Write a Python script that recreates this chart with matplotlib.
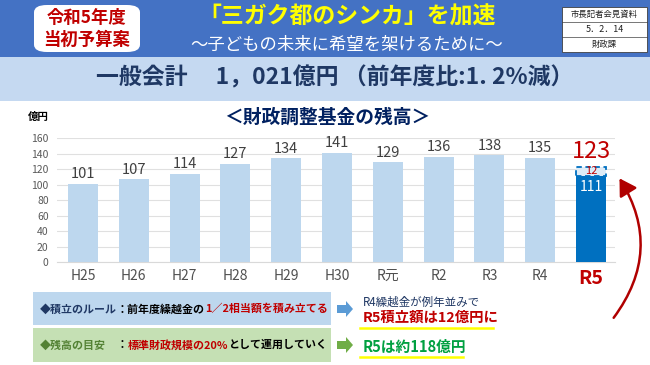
import matplotlib
matplotlib.use("Agg")
import matplotlib.pyplot as plt
from matplotlib.patches import Rectangle, FancyBboxPatch, FancyArrowPatch, FancyArrow
import numpy as np

plt.rcParams['font.family'] = ['Noto Sans CJK JP', 'DejaVu Sans']

# ---- data ----
categories = ['H25', 'H26', 'H27', 'H28', 'H29', 'H30', 'R元', 'R2', 'R3', 'R4', 'R5']
balance = [101, 107, 114, 127, 134, 141, 129, 136, 138, 135, 111]
r5_addition = 12
r5_total = 123
yticks = [0, 20, 40, 60, 80, 100, 120, 140, 160]

W, H = 650, 365
fig = plt.figure(figsize=(6.5, 3.65), dpi=100)
fig.patch.set_facecolor('white')
renderer = fig.canvas.get_renderer()

def fx(x):
    return x / W

def fy(y):
    return 1 - y / H

def rect(x0, y0, x1, y1, **kw):
    r = Rectangle((fx(x0), fy(y1)), fx(x1) - fx(x0), (y1 - y0) / H,
                  transform=fig.transFigure, **kw)
    fig.add_artist(r)
    return r

def txt(x, y, s, **kw):
    kw.setdefault('ha', 'center')
    kw.setdefault('va', 'center')
    return fig.text(fx(x), fy(y), s, **kw)

def seq(x, y, parts):
    for s, color, size, weight in parts:
        t = fig.text(fx(x), fy(y), s, color=color, fontsize=size,
                     fontweight=weight, ha='left', va='center')
        bb = t.get_window_extent(renderer)
        x += bb.width
    return x

# ---- header ----
rect(0, 0, 650, 57, facecolor='#4472C4', edgecolor='none')
rect(0, 57, 650, 101, facecolor='#C5D9F1', edgecolor='none')

box = FancyBboxPatch((fx(34), fy(52)), fx(140) - fx(34), 47 / H,
                     boxstyle='round,pad=0,rounding_size=0.02',
                     transform=fig.transFigure, facecolor='white', edgecolor='none')
fig.add_artist(box)
txt(87, 18, '令和5年度', color='#C00000', fontsize=12.5, fontweight='bold')
txt(87, 40, '当初予算案', color='#C00000', fontsize=12.5, fontweight='bold')

txt(347, 17, '「三ガク都のシンカ」を加速', color='#FFFF00', fontsize=16.5, fontweight='bold')
txt(347, 45, '～子どもの未来に希望を架けるために～', color='white', fontsize=12.5)

# right info box
rect(562, 7, 647, 52, facecolor='white', edgecolor='#404040', linewidth=0.6)
for yy in (22, 37):
    fig.add_artist(plt.Line2D([fx(562), fx(647)], [fy(yy), fy(yy)],
                              transform=fig.transFigure, color='#404040', linewidth=0.5))
txt(604.5, 14.5, '市長記者会見資料', color='#202020', fontsize=6)
txt(604.5, 29.5, '5．2．14', color='#202020', fontsize=6.5)
txt(604.5, 44.5, '財政課', color='#202020', fontsize=6)

# general account band
txt(335, 78, '一般会計　 1，021億円 （前年度比:1. 2%減）', color='#1F3864',
    fontsize=16.5, fontweight='bold')

# ---- chart ----
ax_left, ax_right, ax_top, ax_bot = 57, 615, 138.3, 262.3
ax = fig.add_axes([fx(ax_left), fy(ax_bot), fx(ax_right) - fx(ax_left), (ax_bot - ax_top) / H])
x = np.arange(len(categories))
colors = ['#BDD7EE'] * (len(categories) - 1) + ['#0070C0']
ax.bar(x, balance, width=0.59, color=colors, zorder=3)
ax.bar(x[-1], r5_addition, bottom=balance[-1], width=0.59, facecolor='#DDEBF7',
       edgecolor='#0070C0', linestyle=(0, (3, 2)), linewidth=1.3, zorder=3)
ax.set_xlim(-0.51, 10.47)
ax.set_ylim(0, 160)
ax.set_yticks(yticks)
ax.grid(axis='y', color='#E0E0E0', linewidth=0.8, zorder=0)
for s in ('top', 'right', 'left'):
    ax.spines[s].set_visible(False)
ax.spines['bottom'].set_color('#D9D9D9')
ax.tick_params(axis='both', length=0)
ax.tick_params(axis='y', labelsize=7.5, labelcolor='#595959', pad=6)
ax.set_xticks(x)
ax.set_xticklabels(categories, fontsize=10, color='#505050')
ax.tick_params(axis='x', pad=5)
lbls = ax.get_xticklabels()
lbls[-1].set_color('#C00000')
lbls[-1].set_fontsize(14)
lbls[-1].set_fontweight('bold')
for i in range(len(categories) - 1):
    ax.annotate(str(balance[i]), (x[i], balance[i]), xytext=(0, 2),
                textcoords='offset points', ha='center', va='bottom',
                fontsize=10.5, color='#404040')
ax.annotate(str(r5_total), (x[-1], r5_total), xytext=(0, 3),
            textcoords='offset points', ha='center', va='bottom',
            fontsize=17, color='#C00000')
ax.text(x[-1], balance[-1] + r5_addition / 2 + 0.5, str(r5_addition), ha='center', va='center',
        fontsize=8, color='#C00000', zorder=5)
ax.annotate(str(balance[-1]), (x[-1], balance[-1]), xytext=(0, -3),
            textcoords='offset points', ha='center', va='top',
            fontsize=10, color='white', zorder=5)
ax.set_facecolor('none')

txt(38, 117, '億円', color='#000000', fontsize=7.5, fontweight='bold')
txt(327, 117, '＜財政調整基金の残高＞', color='#002060', fontsize=13.5, fontweight='bold')

# ---- bottom boxes ----
rect(33, 292, 331, 325, facecolor='#BDD7EE', edgecolor='none')
rect(33, 328, 331, 362, facecolor='#C5E0B4', edgecolor='none')
fs = 7.9
seq(40, 309, [('◆積立のルール', '#203864', fs, 'bold'),
              ('：前年度繰越金の', '#000000', fs, 'bold'),
              ('1／2相当額を積み立てる', '#C00000', fs, 'bold')])
seq(40, 345, [('◆残高の目安', '#548235', fs, 'bold'),
              ('　：', '#000000', fs, 'bold'),
              ('標準財政規模の20%', '#C00000', fs, 'bold'),
              ('として運用していく', '#000000', fs, 'bold')])

for yy, col in ((309, '#5B9BD5'), (345, '#70AD47')):
    fig.add_artist(FancyArrow(fx(337), fy(yy), fx(353) - fx(337), 0, width=8 / H,
                              head_width=16 / H, head_length=7 / W, length_includes_head=True,
                              transform=fig.transFigure, color=col, linewidth=0))

txt(363, 302, 'R4繰越金が例年並みで', color='#203864', fontsize=8.3, ha='left')
fig.add_artist(plt.Line2D([fx(360), fx(493)], [fy(328), fy(328)], transform=fig.transFigure,
                          color='#FFFF00', linewidth=1.8))
txt(363, 318, 'R5積立額は12億円に', color='#C00000', fontsize=10.4, fontweight='bold', ha='left')
fig.add_artist(plt.Line2D([fx(360), fx(463)], [fy(357), fy(357)], transform=fig.transFigure,
                          color='#FFFF00', linewidth=1.8))
txt(363, 347, 'R5は約118億円', color='#00A040', fontsize=10.6, fontweight='bold', ha='left')

# curved red arrow
arr = FancyArrowPatch((fx(612), fy(320)), (fx(618), fy(176)), transform=fig.transFigure,
                      connectionstyle='arc3,rad=0.35',
                      arrowstyle='-|>,head_length=5,head_width=3',
                      color='#B00000', linewidth=1.8, mutation_scale=2)
fig.add_artist(arr)

fig.savefig('out.png', dpi=100)
